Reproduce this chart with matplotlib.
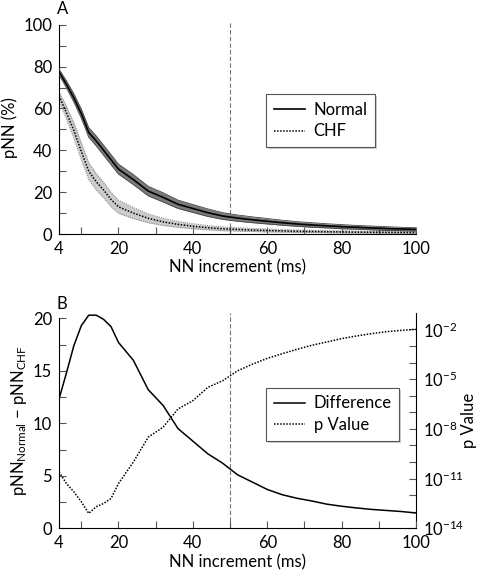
import matplotlib
matplotlib.use("Agg")
import matplotlib.pyplot as plt
import numpy as np
from matplotlib.ticker import FixedLocator, NullFormatter, FixedFormatter

plt.rcParams["font.family"] = ["Lato", "DejaVu Sans"]
plt.rcParams["mathtext.fontset"] = "custom"
plt.rcParams["mathtext.rm"] = "Lato"
plt.rcParams["mathtext.it"] = "Lato"
plt.rcParams["font.size"] = 12

# NN increment (ms)
nn = [4, 6, 8, 10, 12, 14, 16, 18, 20, 24, 28, 32, 36, 40, 44, 48, 52, 56, 60,
      64, 68, 72, 76, 80, 84, 88, 92, 96, 100]

# Panel A: pNN (%) mean and band half-width
normal_mean = [77.5, 71.5, 65.0, 57.5, 48.5, 44.5, 40.0, 35.5, 31.0, 26.0, 20.5,
               17.5, 14.2, 12.2, 10.2, 8.6, 7.6, 6.8, 6.1, 5.4, 4.8, 4.3, 3.9,
               3.5, 3.2, 2.9, 2.6, 2.4, 2.2]
normal_se = [1.3, 1.7, 2.0, 2.2, 2.3, 2.4, 2.4, 2.4, 2.4, 2.4, 2.3, 2.2, 2.0,
             1.9, 1.8, 1.6, 1.5, 1.4, 1.3, 1.2, 1.1, 1.1, 1.0, 1.0, 0.9, 0.9,
             0.9, 0.8, 0.8]
chf_mean = [66.0, 58.0, 49.5, 39.5, 30.0, 25.0, 21.0, 16.5, 13.0, 10.0, 7.5,
            5.8, 4.6, 3.7, 3.0, 2.5, 2.2, 1.9, 1.7, 1.5, 1.3, 1.2, 1.1, 1.0,
            0.9, 0.85, 0.8, 0.75, 0.7]
chf_se = [2.0, 3.0, 3.6, 4.0, 4.0, 3.9, 3.7, 3.4, 3.1, 2.6, 2.1, 1.7, 1.4, 1.2,
          1.0, 0.9, 0.8, 0.7, 0.7, 0.6, 0.6, 0.5, 0.5, 0.5, 0.5, 0.5, 0.5, 0.5,
          0.5]

# Panel B: difference and log10 p value
difference = [12.3, 14.8, 17.4, 19.3, 20.3, 20.3, 19.9, 19.2, 17.7, 16.0, 13.2,
              11.7, 9.5, 8.3, 7.1, 6.2, 5.1, 4.4, 3.7, 3.2, 2.86, 2.6, 2.3, 2.1,
              1.94, 1.8, 1.7, 1.6, 1.46]
log_p = [-10.6, -11.3, -11.8, -12.4, -13.1, -12.7, -12.5, -12.2, -11.3, -10.0,
         -8.5, -7.9, -6.8, -6.3, -5.5, -5.1, -4.5, -4.1, -3.75, -3.47, -3.2,
         -2.96, -2.76, -2.56, -2.4, -2.26, -2.14, -2.06, -2.0]

x = np.array(nn)
nm, ns = np.array(normal_mean), np.array(normal_se)
cm, cs = np.array(chf_mean), np.array(chf_se)
pval = 10.0 ** np.array(log_p)

DOT = (0, (1, 1))
DASH_GREY = "#777777"
SHADOW = {"facecolor": "#cfcfcf", "edgecolor": "none", "alpha": 1.0,
          "ox": 1.5, "oy": -1.5}
LEG = dict(loc="upper left", fancybox=False, shadow=SHADOW, handlelength=1.9,
           borderpad=0.45, labelspacing=0.35, handletextpad=0.5, fontsize=12,
           borderaxespad=0)

fig = plt.figure(figsize=(4.82, 5.72), dpi=100)
axA = fig.add_axes([0.1224, 0.5909, 0.7407, 0.3724])
axB = fig.add_axes([0.1224, 0.0764, 0.7407, 0.3759])


def style_x(ax):
    ax.set_xlim(4, 100)
    ax.xaxis.set_major_locator(FixedLocator([4, 20, 40, 60, 80, 100]))
    ax.xaxis.set_minor_locator(FixedLocator([10, 30, 50, 70, 90]))
    ax.tick_params(axis="x", which="both", direction="in", length=5,
                   width=0.8, color="#555555", pad=5)
    ax.set_xlabel("NN increment (ms)", labelpad=2)


# ── A ──
axA.fill_between(x, cm - cs, cm + cs, color="#cccccc", lw=0, zorder=1)
axA.plot(x, cm - cs, color="#888888", ls=DOT, lw=0.8, zorder=2)
axA.plot(x, cm + cs, color="#888888", ls=DOT, lw=0.8, zorder=2)
axA.fill_between(x, nm - ns, nm + ns, color="#7a7a7a", lw=0, zorder=3)
axA.plot(x, nm - ns, color="#444444", lw=0.6, zorder=4)
axA.plot(x, nm + ns, color="#444444", lw=0.6, zorder=4)
axA.plot(x, nm, color="black", lw=1.2, label="Normal", zorder=5)
axA.plot(x, cm, color="black", ls=DOT, lw=1.1, label="CHF", zorder=5)
axA.axvline(50, color=DASH_GREY, ls=(0, (4, 2)), lw=0.8, zorder=0)
axA.set_ylim(0, 101.8)
axA.spines[["top", "right"]].set_visible(False)
axA.spines["left"].set_bounds(0, 100)
axA.yaxis.set_major_locator(FixedLocator([0, 20, 40, 60, 80, 100]))
axA.yaxis.set_minor_locator(FixedLocator([10, 30, 50, 70, 90]))
axA.tick_params(axis="y", which="both", direction="in", length=5, width=0.8,
                color="#555555", pad=5)
style_x(axA)
axA.set_ylabel("pNN (%)", labelpad=4)
legA = axA.legend(bbox_to_anchor=(0.58, 0.657), **LEG)
legA.get_frame().set_edgecolor("#555555")
legA.get_frame().set_linewidth(0.8)

# ── B ──
axB.plot(x, difference, color="black", lw=1.1, label="Difference", zorder=3)
axB.plot([], [], color="black", ls=DOT, lw=1.1, label="p Value")
axB.axvline(50, color=DASH_GREY, ls=(0, (4, 2)), lw=0.8, zorder=0)
axB.set_ylim(0, 20.48)
axB.spines[["top", "right"]].set_visible(False)
axB.spines["left"].set_bounds(0, 20)
axB.yaxis.set_major_locator(FixedLocator([0, 5, 10, 15, 20]))
axB.yaxis.set_minor_locator(FixedLocator([2.5, 7.5, 12.5, 17.5]))
axB.tick_params(axis="y", which="both", direction="in", length=5, width=0.8,
                color="#555555", pad=5)
style_x(axB)
axB.set_ylabel(r"pNN$_{\mathrm{Normal}}$ $-$ pNN$_{\mathrm{CHF}}$", labelpad=3)

axR = axB.twinx()
axR.plot(x, pval, color="black", ls=DOT, lw=1.1, zorder=3)
axR.set_yscale("log")
axR.set_ylim(1e-14, 10 ** -1.03)
axR.spines[["top", "left", "bottom"]].set_visible(False)
axR.yaxis.set_major_locator(FixedLocator([1e-14, 1e-11, 1e-8, 1e-5, 1e-2]))
axR.yaxis.set_major_formatter(FixedFormatter(
    [r"10$^{-14}$", r"10$^{-11}$", r"10$^{-8}$", r"10$^{-5}$", r"10$^{-2}$"]))
axR.yaxis.set_minor_locator(FixedLocator([10.0 ** k for k in range(-13, -1)]))
axR.yaxis.set_minor_formatter(NullFormatter())
axR.tick_params(axis="y", which="both", direction="in", length=5, width=0.8,
                color="#555555", pad=5)
axR.set_ylabel("p Value")
axR.yaxis.set_label_coords(1.125, 0.5)

legB = axB.legend(bbox_to_anchor=(0.58, 0.653), **LEG)
legB.get_frame().set_edgecolor("#555555")
legB.get_frame().set_linewidth(0.8)
legB.set_zorder(10)
axB.set_zorder(axR.get_zorder() + 1)
axB.patch.set_visible(False)

fig.text(63 / 482, 1 - 9 / 572, "A", ha="center", va="center", fontsize=12)
fig.text(62 / 482, 1 - 304 / 572, "B", ha="center", va="center", fontsize=12)

fig.savefig("out.png", dpi=100)
